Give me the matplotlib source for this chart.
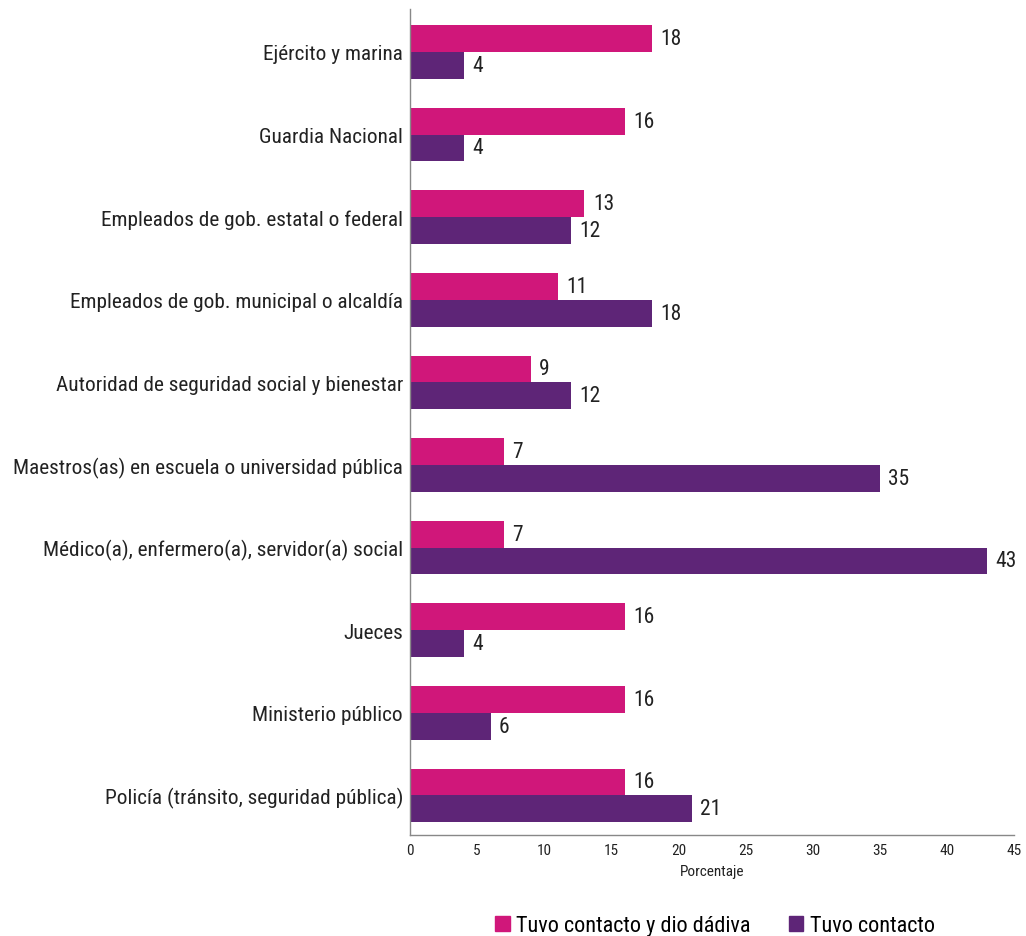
import matplotlib
matplotlib.use("Agg")
import matplotlib.pyplot as plt
from matplotlib import font_manager
from matplotlib.patches import Patch

names = {f.name for f in font_manager.fontManager.ttflist}
family = "Roboto Condensed" if "Roboto Condensed" in names else "Roboto"
plt.rcParams["font.family"] = [family, "DejaVu Sans"]

categories = [
    "Ejército y marina",
    "Guardia Nacional",
    "Empleados de gob. estatal o federal",
    "Empleados de gob. municipal o alcaldía",
    "Autoridad de seguridad social y bienestar",
    "Maestros(as) en escuela o universidad pública",
    "Médico(a), enfermero(a), servidor(a) social",
    "Jueces",
    "Ministerio público",
    "Policía (tránsito, seguridad pública)",
]
dio_dadiva = [18, 16, 13, 11, 9, 7, 7, 16, 16, 16]
tuvo_contacto = [4, 4, 12, 18, 12, 35, 43, 4, 6, 21]
series_labels = ["Tuvo contacto y dio dádiva", "Tuvo contacto"]
xticks = [0, 5, 10, 15, 20, 25, 30, 35, 40, 45]

pink = "#D0177A"
purple = "#5E2577"
text_color = "#222222"

fig = plt.figure(figsize=(10.26, 9.37), dpi=100)
ax = fig.add_axes([410 / 1026, 1 - 836 / 937, 604 / 1026, 826 / 937])

h = 0.325
ys = list(range(len(categories)))
b1 = ax.barh([y - h / 2 for y in ys], dio_dadiva, height=h, color=pink)
b2 = ax.barh([y + h / 2 for y in ys], tuvo_contacto, height=h, color=purple)

for bars, vals in ((b1, dio_dadiva), (b2, tuvo_contacto)):
    for rect, v in zip(bars, vals):
        ax.annotate(f"{v}", (v, rect.get_y() + rect.get_height() / 2),
                    xytext=(6, 0), textcoords="offset points",
                    va="center", ha="left", fontsize=15.5, color=text_color)

ax.set_ylim(9.48, -0.52)
ax.set_xlim(0, 45)
ax.set_xticks(xticks)
ax.set_xticklabels([str(t) for t in xticks], fontsize=11, color=text_color)
ax.set_yticks(ys)
ax.set_yticklabels(categories, fontsize=15.3, color=text_color)
ax.tick_params(axis="y", length=0, pad=5)
ax.tick_params(axis="x", length=0, pad=6)
ax.set_xlabel("Porcentaje", fontsize=11, color=text_color, labelpad=5)

for s in ("top", "right"):
    ax.spines[s].set_visible(False)
ax.spines["left"].set_color("#888888")
ax.spines["bottom"].set_color("#888888")
ax.spines["left"].set_linewidth(1)
ax.spines["bottom"].set_linewidth(1)

handles = [Patch(color=pink), Patch(color=purple)]
fig.legend(handles, series_labels, loc="center", bbox_to_anchor=(715 / 1026, 1 - 927 / 937),
           ncol=2, frameon=False, fontsize=16, handlelength=0.65, handleheight=0.65,
           handletextpad=0.3, columnspacing=1.7)

fig.savefig("out.png", dpi=100)
